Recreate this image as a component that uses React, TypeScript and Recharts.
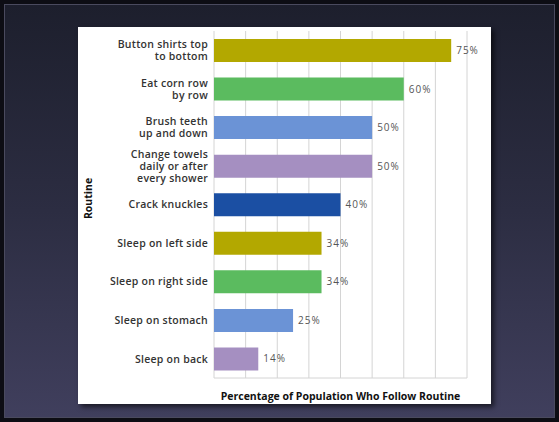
import React from 'react';
import { BarChart, Bar, XAxis, YAxis, CartesianGrid, Cell, LabelList } from 'recharts';

const categories = [
  'Button shirts top\nto bottom',
  'Eat corn row\nby row',
  'Brush teeth\nup and down',
  'Change towels\ndaily or after\nevery shower',
  'Crack knuckles',
  'Sleep on left side',
  'Sleep on right side',
  'Sleep on stomach',
  'Sleep on back',
];
const values = [75, 60, 50, 50, 40, 34, 34, 25, 14];
const barColors = ['#b3a800', '#5bbb5f', '#6b93d6', '#a58fc1', '#1b4fa3', '#b3a800', '#5bbb5f', '#6b93d6', '#a58fc1'];
const xTicks = [0, 10, 20, 30, 40, 50, 60, 70, 80];
const xTitle = 'Percentage of Population Who Follow Routine';
const yTitle = 'Routine';

const data = categories.map((name, i) => ({ name, value: values[i] }));

const FONT = '"Open Sans", "DejaVu Sans", sans-serif';

const CategoryTick = (props: any) => {
  const { x, y, payload } = props;
  const lines: string[] = String(payload.value).split('\n');
  const lh = 12;
  const start = -((lines.length - 1) * lh) / 2;
  return (
    <text x={x} y={y} textAnchor="end" fill="#333" fontSize={10.5} fontWeight={600} fontFamily={FONT} letterSpacing={0.25}>
      {lines.map((l, i) => (
        <tspan key={i} x={x} y={y + start + i * lh} dy="0.36em">
          {l}
        </tspan>
      ))}
    </text>
  );
};

const EmptyTick = () => <g />;

const YTitle = (props: any) => {
  const vb = props.viewBox || {};
  const cx = 10;
  const cy = (vb.y || 0) + (vb.height || 0) / 2 - 6;
  return (
    <text x={cx} y={cy} transform={`rotate(-90 ${cx} ${cy})`} textAnchor="middle" dominantBaseline="central" fill="#111" fontSize={10.5} fontWeight={700} fontFamily={FONT}>
      {yTitle}
    </text>
  );
};

const XTitle = (props: any) => {
  const vb = props.viewBox || {};
  const cx = (vb.x || 0) + (vb.width || 0) / 2;
  const cy = (vb.y || 0) + 18;
  return (
    <text x={cx} y={cy} textAnchor="middle" dominantBaseline="central" fill="#111" fontSize={10.5} fontWeight={700} fontFamily={FONT}>
      {xTitle}
    </text>
  );
};

export default function App() {
  return (
    <div style={{ position: 'fixed', left: 0, top: 0, width: 559, height: 422, background: '#0d0d14' }}>
      <div
        style={{
          position: 'absolute',
          left: 4,
          top: 4,
          width: 551,
          height: 414,
          boxSizing: 'border-box',
          border: '1px solid #4a4a5e',
          background: 'linear-gradient(180deg, #1d1f2d 0%, #2c2d42 50%, #403f5d 100%)',
        }}
      />
      <div
        style={{
          position: 'absolute',
          left: 78,
          top: 27,
          width: 413,
          height: 377,
          background: '#ffffff',
          boxShadow: '3px 3px 5px rgba(0,0,0,0.6)',
        }}
      >
        <BarChart
          width={413}
          height={377}
          data={data}
          layout="vertical"
          margin={{ top: 4, right: 24, bottom: 0, left: 0 }}
          barSize={23}
        >
          <CartesianGrid xAxisId="bottom" horizontal={false} vertical={true} stroke="#d4d4d4" />
          <XAxis
            xAxisId="bottom"
            type="number"
            domain={[0, 80]}
            ticks={xTicks}
            tick={<EmptyTick />}
            tickLine={false}
            axisLine={{ stroke: '#d4d4d4' }}
            height={26}
            label={<XTitle />}
          />
          <XAxis
            xAxisId="top"
            orientation="top"
            type="number"
            domain={[0, 80]}
            ticks={xTicks}
            tick={false}
            tickLine={false}
            axisLine={{ stroke: '#d4d4d4' }}
            height={0}
          />
          <YAxis
            type="category"
            dataKey="name"
            width={136}
            tickLine={false}
            axisLine={false}
            tickSize={0}
            tickMargin={6}
            interval={0}
            tick={<CategoryTick />}
            label={<YTitle />}
          />
          <Bar dataKey="value" xAxisId="bottom" isAnimationActive={false}>
            {data.map((d, i) => (
              <Cell key={i} fill={barColors[i]} />
            ))}
            <LabelList
              dataKey="value"
              position="right"
              offset={5}
              formatter={(v: any) => `${v}%`}
              fill="#555"
              fontSize={10}
              fontFamily={FONT}
              letterSpacing={1}
            />
          </Bar>
        </BarChart>
      </div>
    </div>
  );
}
